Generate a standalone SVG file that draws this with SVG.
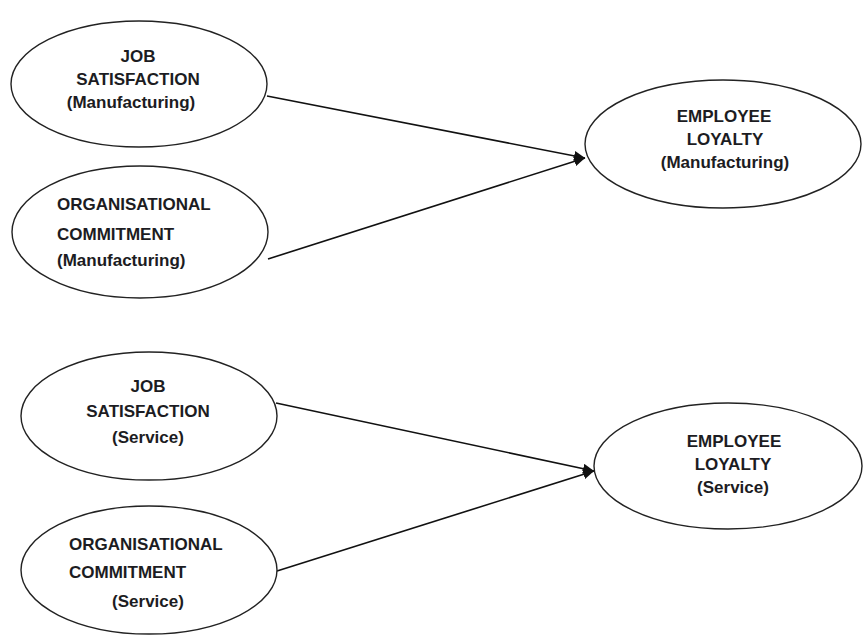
<svg xmlns="http://www.w3.org/2000/svg" width="864" height="637" viewBox="0 0 864 637">
<defs>
<marker id="arr" markerUnits="userSpaceOnUse" markerWidth="12" markerHeight="10" refX="11" refY="5" orient="auto">
<path d="M0,0 L11,5 L0,10 z" fill="#111"/>
</marker>
<style>
.n ellipse{fill:#fff;stroke:#222;stroke-width:1.4}
.n text{font-family:"Liberation Sans",Arial,sans-serif;font-weight:bold;font-size:17px;fill:#1c1c22}
.c{text-anchor:middle}
.e line{stroke:#111;stroke-width:1.6}
</style>
</defs>
<rect width="864" height="637" fill="#fff"/>
<g class="e">
<line x1="267" y1="96" x2="585" y2="158" marker-end="url(#arr)"/>
<line x1="268" y1="259" x2="585" y2="158" marker-end="url(#arr)"/>
<line x1="276" y1="403" x2="594" y2="471" marker-end="url(#arr)"/>
<line x1="277" y1="571" x2="594" y2="471" marker-end="url(#arr)"/>
</g>
<g id="js_m" class="n">
<ellipse cx="139" cy="84" rx="128" ry="63"/>
<text class="c" x="138" y="62">JOB</text>
<text class="c" x="138" y="85">SATISFACTION</text>
<text class="c" x="131" y="108">(Manufacturing)</text>
</g>
<g id="oc_m" class="n">
<ellipse cx="140" cy="232" rx="128" ry="66"/>
<text x="57" y="210">ORGANISATIONAL</text>
<text x="57" y="240">COMMITMENT</text>
<text x="57" y="266">(Manufacturing)</text>
</g>
<g id="el_m" class="n">
<ellipse cx="723" cy="144" rx="138" ry="64"/>
<text class="c" x="724" y="122">EMPLOYEE</text>
<text class="c" x="725" y="145">LOYALTY</text>
<text class="c" x="725" y="168">(Manufacturing)</text>
</g>
<g id="js_s" class="n">
<ellipse cx="149" cy="416" rx="128" ry="64"/>
<text class="c" x="148" y="392">JOB</text>
<text class="c" x="148" y="417">SATISFACTION</text>
<text class="c" x="148" y="443">(Service)</text>
</g>
<g id="oc_s" class="n">
<ellipse cx="149" cy="570" rx="128" ry="64"/>
<text x="69" y="550">ORGANISATIONAL</text>
<text x="69" y="578">COMMITMENT</text>
<text class="c" x="148" y="607">(Service)</text>
</g>
<g id="el_s" class="n">
<ellipse cx="728" cy="466" rx="134" ry="63"/>
<text class="c" x="734" y="447">EMPLOYEE</text>
<text class="c" x="733" y="470">LOYALTY</text>
<text class="c" x="733" y="493">(Service)</text>
</g>
</svg>
